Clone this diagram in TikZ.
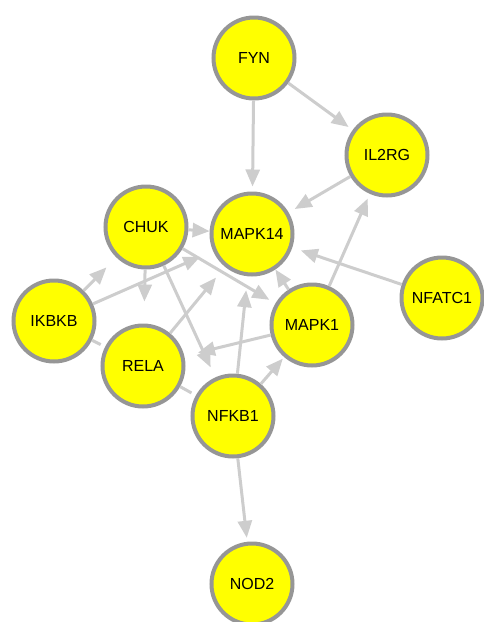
\documentclass[tikz,border=0pt]{standalone}
\usepackage{fontspec}
\setmainfont{Liberation Sans}
\usetikzlibrary{arrows.meta}
\definecolor{genefill}{RGB}{255,255,0}
\definecolor{generim}{RGB}{150,150,150}
\definecolor{linkgray}{RGB}{205,205,205}
\begin{document}
\begin{tikzpicture}[x=1pt,y=-1pt,
  gene/.style={shape=circle,draw=generim,line width=4pt,fill=genefill,minimum size=81pt,inner sep=0pt,
               font=\fontsize{16}{19}\selectfont},
  link/.style={draw=linkgray,line width=3pt,>={Triangle[length=17pt,width=14pt]},shorten >=5pt},
  far/.style={shorten >=14pt}]
\useasboundingbox (0,0) rectangle (484,622);
\path node (fyn)    at (254,58)  [gene] {FYN}
      node (il2rg)  at (387,155) [gene] {IL2RG}
      node (chuk)   at (146,227) [gene] {CHUK}
      node (mapk14) at (252,234) [gene] {MAPK14}
      node (nfatc1) at (442,298) [gene] {NFATC1}
      node (ikbkb)  at (54,321)  [gene] {IKBKB}
      node (mapk1)  at (312,325) [gene] {MAPK1}
      node (rela)   at (143,366) [gene] {RELA}
      node (nfkb1)  at (233,416) [gene] {NFKB1}
      node (nod2)   at (252,584) [gene] {NOD2};
\draw [link,->] (fyn) to (mapk14);
\draw [link,->] (fyn) to (il2rg);
\draw [link,->,shorten >=7pt] (il2rg) to (mapk14);
\draw [link,->] (mapk1) to (il2rg);
\draw [link,->,shorten >=9pt] (nfatc1) to (mapk14);
\draw [link,->,shorten >=0pt] (chuk) to (mapk14);
\draw [link,->,shorten >=22pt] (chuk) to (rela);
\draw [link,->,shorten >=7pt] (chuk) to (mapk1);
\draw [link,->,shorten >=11pt] (chuk) to (nfkb1);
\draw [link,->,far] (ikbkb) to (chuk);
\draw [link,->,far] (ikbkb) to (mapk14);
\draw [link] (ikbkb) to (rela);
\draw [link,->,far] (rela) to (mapk14);
\draw [link] (rela) to (nfkb1);
\draw [link,->,far] (mapk1) to (rela);
\draw [link,->,far] (nfkb1) to (mapk14);
\draw [link,->,shorten >=2pt] (nfkb1) to (mapk1);
\draw [link,->,shorten >=0pt] (mapk1) to (mapk14);
\draw [link,->,shorten >=4pt] (nfkb1) to (nod2);
\end{tikzpicture}
\end{document}
